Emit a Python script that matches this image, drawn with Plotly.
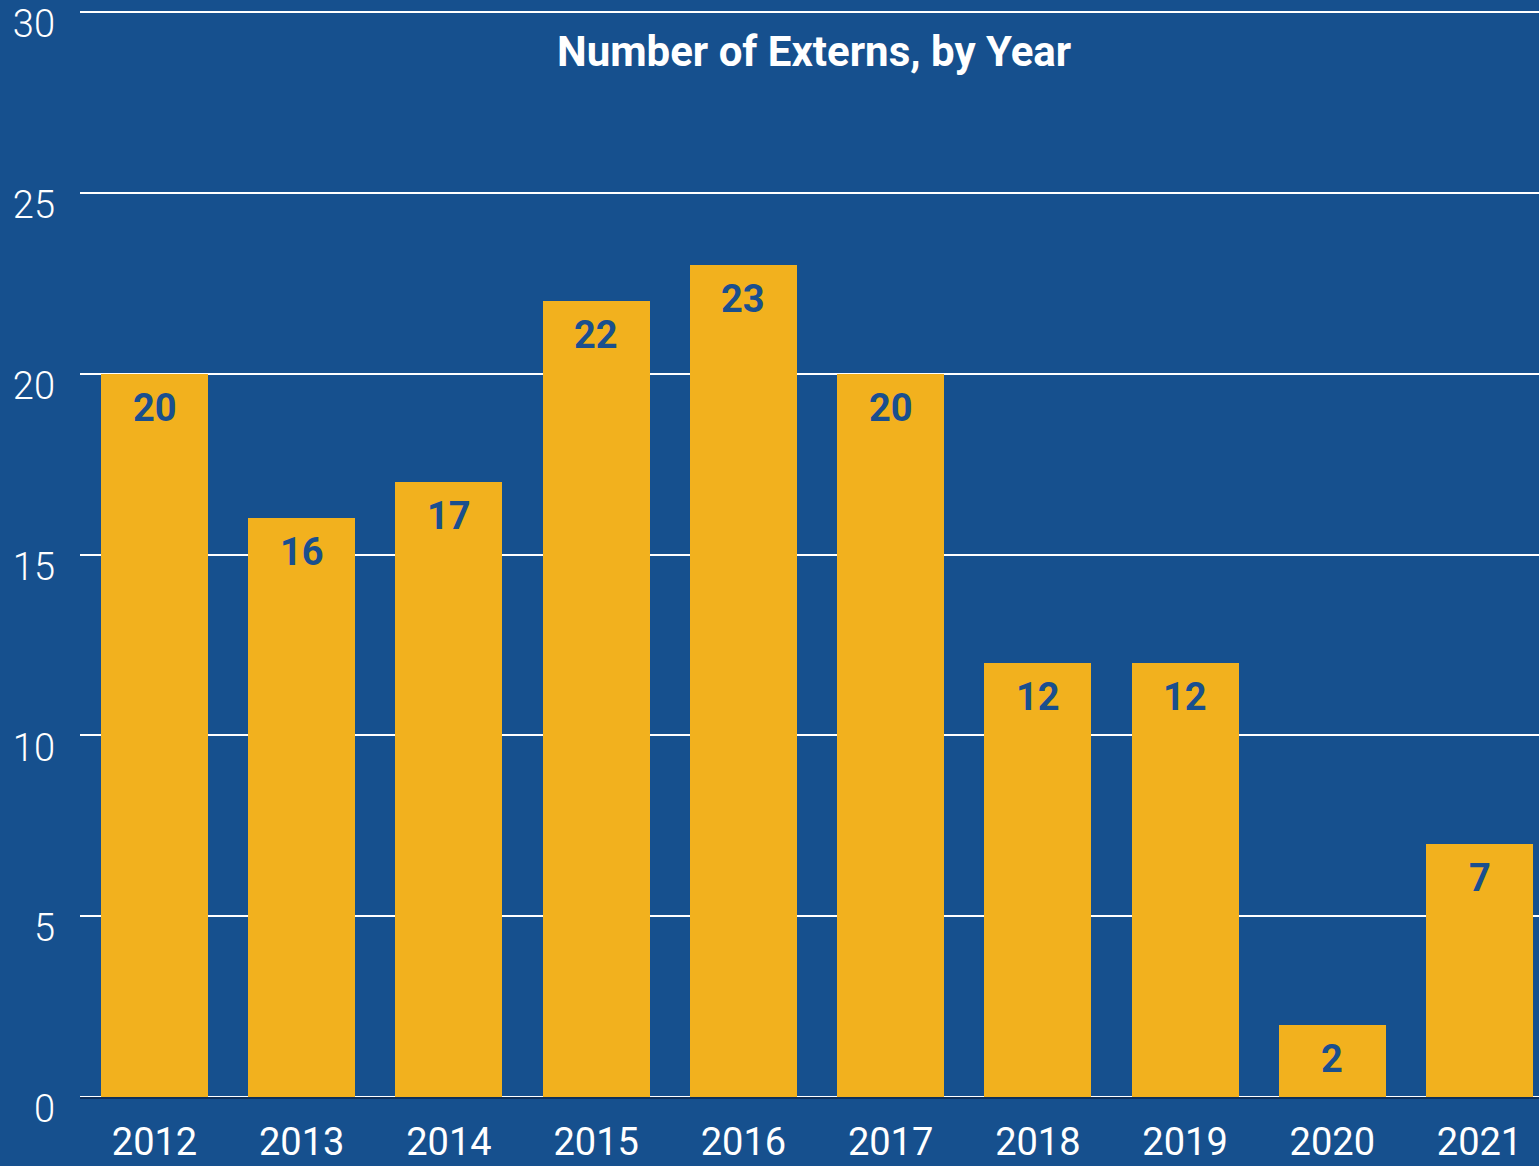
import plotly.graph_objects as go

years = [2012, 2013, 2014, 2015, 2016, 2017, 2018, 2019, 2020, 2021]
externs = [20, 16, 17, 22, 23, 20, 12, 12, 2, 7]
year_labels = [str(y) for y in years]
y_ticks = [0, 5, 10, 15, 20, 25, 30]
title_text = "Number of Externs, by Year"

BG = "#16508E"
BAR = "#F2B11E"
LABEL = "#1A4F8E"
FONT = "Roboto"

fig = go.Figure()
fig.add_trace(go.Bar(
    x=years, y=externs, width=0.727,
    marker=dict(color=BAR, line=dict(width=0)),
    hoverinfo="skip",
))

for x, v in zip(years, externs):
    fig.add_annotation(
        x=x, y=v, xref="x", yref="y", text=str(v), showarrow=False,
        yanchor="top", yshift=-10,
        font=dict(family=FONT, size=38, color=LABEL, weight="bold"),
    )

fig.add_annotation(
    x=0.503, y=0.963, xref="paper", yref="paper", text=title_text,
    showarrow=False, xanchor="center", yanchor="middle",
    font=dict(family=FONT, size=42, color="white", weight="bold"),
)

fig.update_layout(
    width=1539, height=1166,
    margin=dict(l=80, r=0, t=11, b=69, autoexpand=False),
    paper_bgcolor=BG, plot_bgcolor=BG,
    showlegend=False,
    bargap=0,
    xaxis=dict(
        range=[2011.494, 2021.404], automargin=False,
        tickmode="array", tickvals=years, ticktext=year_labels,
        showgrid=False, zeroline=False,
        showline=True, linecolor="#0E2F5A", linewidth=2,
        ticks="", ticklabelstandoff=10,
        tickfont=dict(family=FONT, size=38, color="white"),
    ),
    yaxis=dict(
        range=[0, 30.03], automargin=False,
        tickmode="array", tickvals=y_ticks,
        showgrid=True, gridcolor="white", gridwidth=1.5,
        zeroline=True, zerolinecolor="white", zerolinewidth=2,
        ticks="", ticklabelstandoff=24, ticklabelshift=12,
        tickfont=dict(family=FONT, size=38, color="white", weight=300),
    ),
)

fig.write_html("out.html")
